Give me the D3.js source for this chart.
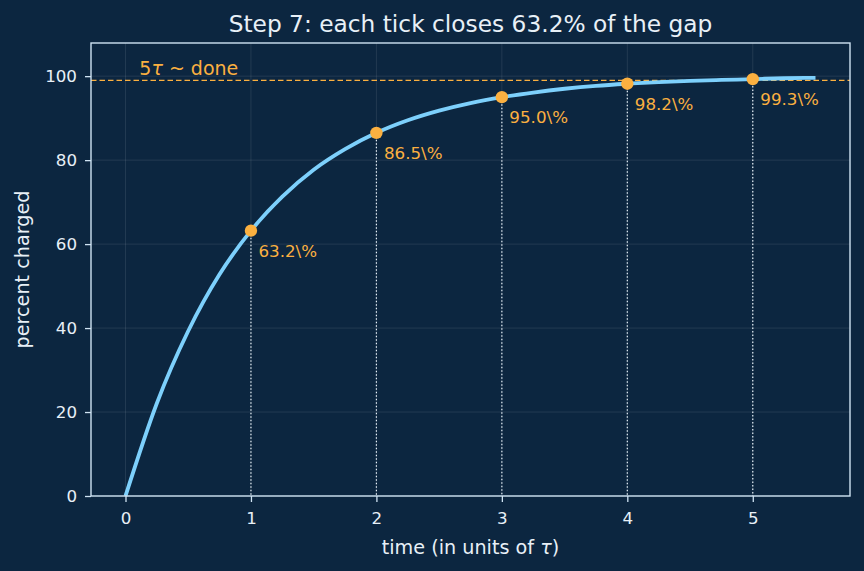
<!DOCTYPE html>
<html>
<head>
<meta charset="utf-8">
<script src="https://cdn.jsdelivr.net/npm/d3@7"></script>
<style>
  html, body { margin: 0; padding: 0; background: #0c2640; }
  svg { display: block; font-family: "DejaVu Sans", sans-serif; }
</style>
</head>
<body>
<div id="chart"></div>
<script>
// charging curve (time in tau, percent charged)
const curveTimes = [0, 0.25, 0.5, 0.75, 1, 1.25, 1.5, 1.75, 2, 2.25, 2.5, 2.75, 3, 3.25, 3.5, 3.75, 4, 4.25, 4.5, 4.75, 5, 5.25, 5.5];
const curveValues = [0, 22.1, 39.3, 52.8, 63.2, 71.3, 77.7, 82.6, 86.5, 89.5, 91.8, 93.6, 95.0, 96.1, 97.0, 97.7, 98.2, 98.6, 98.9, 99.1, 99.3, 99.5, 99.6];

// marked ticks
const tickTimes = [1, 2, 3, 4, 5];
const tickValues = [63.2, 86.5, 95.0, 98.2, 99.3];
const tickLabels = ["63.2\\%", "86.5\\%", "95.0\\%", "98.2\\%", "99.3\\%"];

const doneLevel = 99;
const xTicks = [0, 1, 2, 3, 4, 5];
const yTicks = [0, 20, 40, 60, 80, 100];

const W = 864, H = 571;
const margin = { top: 43, right: 14, bottom: 75, left: 91 };
const width = W - margin.left - margin.right;
const height = H - margin.top - margin.bottom;

const bg = "#0c2640";
const fg = "#e8f0f7";
const spine = "#cfe3f3";
const curveColor = "#7dd0fc";
const accent = "#fbb040";

const svg = d3.select("#chart").append("svg")
  .attr("width", W)
  .attr("height", H);

svg.append("rect").attr("width", W).attr("height", H).attr("fill", bg);

const g = svg.append("g").attr("transform", `translate(${margin.left},${margin.top})`);

const x = d3.scaleLinear().domain([-0.275, 5.775]).range([0, width]);
const y = d3.scaleLinear().domain([0, 107.9]).range([height, 0]);

// grid
g.append("g")
  .selectAll("line")
  .data(xTicks)
  .join("line")
    .attr("x1", d => x(d)).attr("x2", d => x(d))
    .attr("y1", 0).attr("y2", height)
    .attr("stroke", "#ffffff").attr("stroke-opacity", 0.12).attr("stroke-width", 0.8);
g.append("g")
  .selectAll("line")
  .data(yTicks)
  .join("line")
    .attr("x1", 0).attr("x2", width)
    .attr("y1", d => y(d)).attr("y2", d => y(d))
    .attr("stroke", "#ffffff").attr("stroke-opacity", 0.12).attr("stroke-width", 0.8);

// done line
g.append("line")
  .attr("x1", 0).attr("x2", width)
  .attr("y1", y(doneLevel)).attr("y2", y(doneLevel))
  .attr("stroke", accent).attr("stroke-width", 1.4)
  .attr("stroke-dasharray", "5.5,3");

const doneText = g.append("text")
  .attr("x", x(0.11)).attr("y", y(doneLevel) - 5.5)
  .attr("fill", accent).attr("font-size", 19);
doneText.append("tspan").text("5");
doneText.append("tspan").attr("font-style", "italic").text("\u03c4");
doneText.append("tspan").text(" ~ done");

// drop lines
g.append("g")
  .selectAll("line")
  .data(tickTimes)
  .join("line")
    .attr("x1", d => x(d)).attr("x2", d => x(d))
    .attr("y1", (d, i) => y(tickValues[i])).attr("y2", height)
    .attr("stroke", "#e6f0f8").attr("stroke-width", 1.2)
    .attr("stroke-dasharray", "1.5,2");

// curve
const pts = curveTimes.map((t, i) => [t, curveValues[i]]);
const line = d3.line()
  .x(d => x(d[0]))
  .y(d => y(d[1]))
  .curve(d3.curveMonotoneX);

g.append("path")
  .datum(pts)
  .attr("fill", "none")
  .attr("stroke", curveColor)
  .attr("stroke-width", 3.8)
  .attr("d", line);

// markers
g.append("g")
  .selectAll("circle")
  .data(tickTimes)
  .join("circle")
    .attr("cx", d => x(d))
    .attr("cy", (d, i) => y(tickValues[i]))
    .attr("r", 6.2)
    .attr("fill", accent);

g.append("g")
  .selectAll("text")
  .data(tickTimes)
  .join("text")
    .attr("x", d => x(d) + 7.5)
    .attr("y", (d, i) => y(tickValues[i]) + 26)
    .attr("fill", accent)
    .attr("font-size", 16.7)
    .text((d, i) => tickLabels[i]);

// axes
const xAxis = g.append("g")
  .attr("transform", `translate(0,${height})`)
  .call(d3.axisBottom(x).tickValues(xTicks).tickSize(6).tickPadding(10).tickFormat(d3.format("d")));
const yAxis = g.append("g")
  .call(d3.axisLeft(y).tickValues(yTicks).tickSize(6).tickPadding(8).tickFormat(d3.format("d")));

[xAxis, yAxis].forEach(a => {
  a.select(".domain").remove();
  a.selectAll(".tick line").attr("stroke", spine).attr("stroke-width", 1.3);
  a.selectAll(".tick text").attr("fill", fg).attr("font-size", 16.7)
    .attr("font-family", "DejaVu Sans, sans-serif");
});

// frame
g.append("rect")
  .attr("width", width).attr("height", height)
  .attr("fill", "none").attr("stroke", spine).attr("stroke-width", 1.4);

// titles
svg.append("text")
  .attr("x", margin.left + width / 2).attr("y", 31.5)
  .attr("text-anchor", "middle")
  .attr("fill", fg).attr("font-size", 23.3)
  .text("Step 7: each tick closes 63.2% of the gap");

const xLabel = svg.append("text")
  .attr("x", margin.left + width / 2).attr("y", 554)
  .attr("text-anchor", "middle")
  .attr("fill", fg).attr("font-size", 19.2);
xLabel.append("tspan").text("time (in units of ");
xLabel.append("tspan").attr("font-style", "italic").text("\u03c4");
xLabel.append("tspan").text(")");

svg.append("text")
  .attr("transform", `translate(28.5,${margin.top + height / 2}) rotate(-90)`)
  .attr("text-anchor", "middle")
  .attr("fill", fg).attr("font-size", 19.2)
  .text("percent charged");
</script>
</body>
</html>
